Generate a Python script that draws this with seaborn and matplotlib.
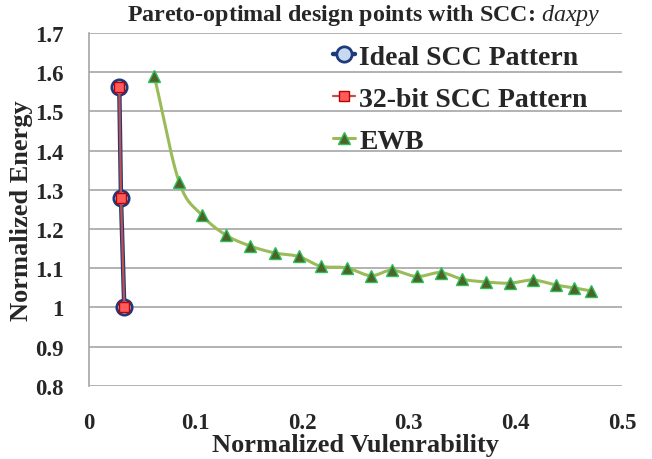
import numpy as np
import matplotlib
matplotlib.use('Agg')
import matplotlib.pyplot as plt
import seaborn as sns

# values
ideal_x = [0.0284, 0.0300, 0.0331]
ideal_y = [1.562, 1.279, 1.000]

bit32_x = [0.0284, 0.0300, 0.0331]
bit32_y = [1.562, 1.279, 1.000]

ewb_x = [0.0613, 0.0844, 0.1057, 0.1282, 0.1510, 0.1742, 0.1967, 0.2176, 0.2417, 0.2643,
         0.2842, 0.3074, 0.3299, 0.3502, 0.3724, 0.3949, 0.4165, 0.4381, 0.4550, 0.4712]
ewb_y = [1.590, 1.321, 1.236, 1.185, 1.157, 1.139, 1.130, 1.105, 1.101, 1.081,
         1.095, 1.079, 1.089, 1.072, 1.065, 1.062, 1.070, 1.057, 1.050, 1.042]

y_ticks = [0.8, 0.9, 1.0, 1.1, 1.2, 1.3, 1.4, 1.5, 1.6, 1.7]
y_labels = ['0.8', '0.9', '1', '1.1', '1.2', '1.3', '1.4', '1.5', '1.6', '1.7']
x_ticks = [0, 0.1, 0.2, 0.3, 0.4, 0.5]
x_labels = ['0', '0.1', '0.2', '0.3', '0.4', '0.5']

sns.set_style('white')
plt.rcParams['font.family'] = ['Liberation Serif', 'DejaVu Serif']
plt.rcParams['mathtext.fontset'] = 'custom'
plt.rcParams['mathtext.it'] = 'Liberation Serif:italic'
plt.rcParams['mathtext.rm'] = 'Liberation Serif'


def smooth(xs, ys, n=20):
    # Catmull-Rom style curve like Excel's smoothed line
    xs = np.asarray(xs); ys = np.asarray(ys)
    px = np.concatenate([[2 * xs[0] - xs[1]], xs, [2 * xs[-1] - xs[-2]]])
    py = np.concatenate([[2 * ys[0] - ys[1]], ys, [2 * ys[-1] - ys[-2]]])
    ox, oy = [], []
    t = np.linspace(0, 1, n)
    for i in range(1, len(px) - 2):
        for p, o in ((px, ox), (py, oy)):
            p0, p1, p2, p3 = p[i - 1], p[i], p[i + 1], p[i + 2]
            o.extend(0.5 * ((2 * p1) + (-p0 + p2) * t + (2 * p0 - 5 * p1 + 4 * p2 - p3) * t ** 2
                            + (-p0 + 3 * p1 - 3 * p2 + p3) * t ** 3))
    return ox, oy


fig = plt.figure(figsize=(6.52, 4.6), dpi=100)
ax = fig.add_axes([0.1365, 0.159, 0.8175, 0.767])

sns.lineplot(x=ideal_x, y=ideal_y, sort=False, ax=ax, color='#1F3A7A', lw=3.2,
             marker='o', markersize=11, markerfacecolor='#C6D9F1', markeredgecolor='#1F3A7A',
             markeredgewidth=2, label='Ideal SCC Pattern')
sns.lineplot(x=bit32_x, y=bit32_y, sort=False, ax=ax, color='#C0504D', lw=1.6,
             marker='s', markersize=7.5, markerfacecolor='#FF5B5B', markeredgecolor='#C00000',
             markeredgewidth=1, label='32-bit SCC Pattern')

sx, sy = smooth(ewb_x, ewb_y)
ax.plot(sx, sy, color='#9BBB59', lw=2.2, zorder=3)
ax.plot(ewb_x, ewb_y, ls='none', marker='^', markersize=9, markerfacecolor='#4F6228',
        markeredgecolor='#2DBE5A', markeredgewidth=1, zorder=4)
ax.plot([], [], color='#9BBB59', lw=2.2, marker='^', markersize=9, markerfacecolor='#4F6228',
        markeredgecolor='#2DBE5A', markeredgewidth=1, label='EWB')

ax.set_xlim(0, 0.5)
ax.set_ylim(0.8, 1.7)
ax.set_xticks(x_ticks)
ax.set_xticklabels(x_labels)
ax.set_yticks(y_ticks)
ax.set_yticklabels(y_labels)
ax.tick_params(axis='both', length=0, labelsize=16.5)
ax.tick_params(axis='x', pad=19)
ax.tick_params(axis='y', pad=18)
for lab in ax.get_xticklabels() + ax.get_yticklabels():
    lab.set_fontweight('bold')

ax.yaxis.grid(True, color='#A6A6A6', lw=1.2)
ax.set_axisbelow(True)
for s in ['top', 'right', 'bottom']:
    ax.spines[s].set_visible(False)
ax.spines['left'].set_color('#A6A6A6')
ax.spines['left'].set_linewidth(1.2)

ax.set_xlabel('Normalized Vulenrability', fontsize=19, fontweight='bold', labelpad=0)
ax.set_ylabel('Normalized Energy', fontsize=19, fontweight='bold', labelpad=2)
fig.text(0.558, 0.967, r'Pareto-optimal design points with SCC: $\it{daxpy}$',
         ha='center', va='center', fontsize=17.3, fontweight='bold')

leg = ax.legend(loc='upper left', bbox_to_anchor=(0.437, 1.0), frameon=False,
                prop={'weight': 'bold', 'size': 20}, handlelength=0.8, handletextpad=0.15,
                labelspacing=0.6, borderaxespad=0)

fig.savefig('out.png', dpi=100)
